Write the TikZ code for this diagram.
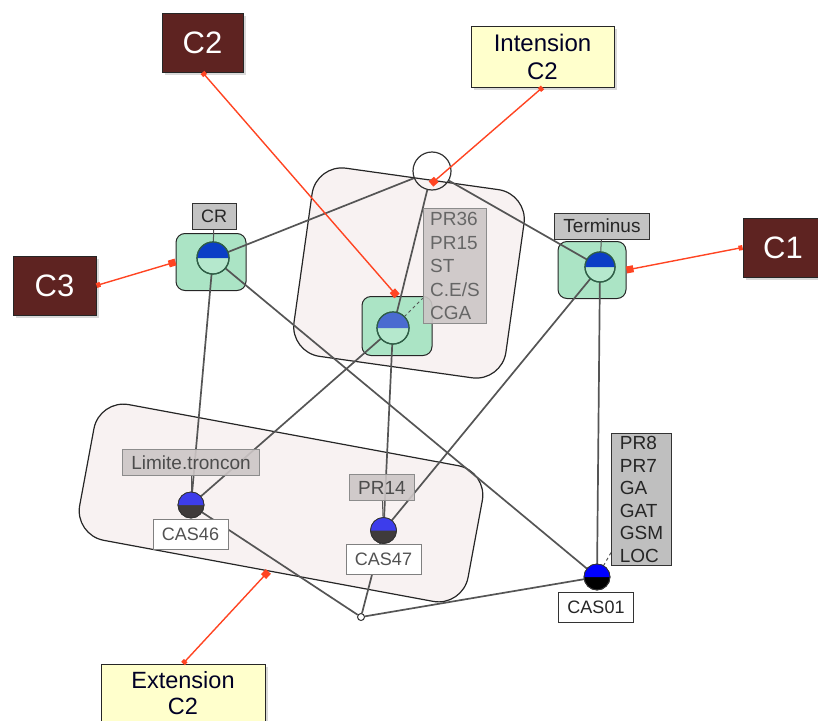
\documentclass[tikz,border=0pt]{standalone}
\usepackage{fontspec}
\setmainfont{Liberation Sans}
\usepackage{xcolor}
\usetikzlibrary{arrows.meta,shadows}

\definecolor{capbrown}{HTML}{5E2321}
\definecolor{noteyellow}{HTML}{FFFFCC}
\definecolor{regionpink}{HTML}{F8F2F2}
\definecolor{conceptgreen}{HTML}{ABE4C5}
\definecolor{circgreen}{HTML}{2F5E46}
\definecolor{lightgreen}{HTML}{B5E8CD}
\definecolor{cblue}{HTML}{0B3EC6}
\definecolor{mblue}{HTML}{4A6BD0}
\definecolor{oblue}{HTML}{3D3DEB}
\definecolor{odark}{HTML}{3F3B3B}
\definecolor{linkred}{HTML}{FF4422}
\definecolor{labgray}{HTML}{C3C3C3}
\definecolor{fadegray}{HTML}{CCC6C6}
\definecolor{edgegray}{HTML}{555555}

\pgfdeclarelayer{back}
\pgfdeclarelayer{edges}
\pgfsetlayers{back,edges,main}

\begin{document}
\begin{tikzpicture}[x=1pt,y=-1pt,
    region/.style={draw=black!85, fill=regionpink, line width=1.2pt, rounded corners=30pt},
    concept/.style={draw=black!85, fill=conceptgreen, line width=1pt, rounded corners=9pt},
    ccirc/.style={circle, draw=circgreen, fill=lightgreen, line width=1.2pt, minimum size=#1, inner sep=0pt, outer sep=0pt},
    ocirc/.style={circle, draw=black!80, line width=0.8pt, minimum size=#1, inner sep=0pt, outer sep=0pt},
    lab/.style={draw=black!80, fill=labgray, text=black!85, line width=0.9pt, font=\fontsize{19}{22.5}\selectfont, inner xsep=9pt, inner ysep=3pt, minimum height=26},
    glab/.style={lab, draw=black!45, fill=fadegray, fill opacity=0.9, text opacity=1, text=black!70},
    objname/.style={lab, fill=white, minimum height=30},
    cbox/.style={draw=black!85, fill=capbrown, text=white, line width=0.9pt, font=\fontsize{31}{36}\selectfont,
        drop shadow={shadow xshift=3pt, shadow yshift=-3pt, opacity=0.3}},
    ybox/.style={draw=black!85, fill=noteyellow, text=black!85!blue, line width=0.9pt, align=center,
        font=\fontsize{24}{28}\selectfont, drop shadow={shadow xshift=3pt, shadow yshift=-3pt, opacity=0.3}},
    edge/.style={draw=edgegray, line width=1.7pt},
    tick/.style={draw=edgegray, line width=1pt},
    link/.style={draw=linkred, line width=1.4pt, {Square[length=4pt,width=5pt]}-{Square[length=7pt,width=7pt]}}]

    \useasboundingbox (0,0) rectangle (818,720);

    \begin{pgfonlayer}{back}
        \node[region, minimum width=214, minimum height=190, rotate=-8] (intreg) at (409,273) {};
        \node[region, minimum width=395, minimum height=138, rotate=-10.5] (extreg) at (281,503) {};
        \node[concept, minimum width=70, minimum height=57] (crbox) at (211,262) {};
        \node[concept, minimum width=68, minimum height=57] (termbox) at (592,270) {};
        \node[concept, minimum width=70, minimum height=59] (midbox) at (397,326) {};
    \end{pgfonlayer}

    % concepts
    \node[ccirc=32] (crc) at (213,258) {};
    \node[ccirc=30] (termc) at (600,267) {};
    \node[ccirc=32] (midc) at (393,328) {};
    \foreach \n/\r/\c in {crc/16/cblue, termc/15/cblue, midc/16/mblue}{
        \fill[\c] (\n.west) arc (180:360:\r) -- cycle;
        \draw[circgreen, line width=1.2pt] (\n.center) circle (\r);
    }

    % objects
    \node[ocirc=26, fill=odark] (cas46c) at (191,505) {};
    \node[ocirc=26, fill=odark] (cas47c) at (383.5,530.5) {};
    \node[ocirc=26, fill=black] (cas01c) at (597,577) {};
    \foreach \n/\c in {cas46c/oblue, cas47c/oblue, cas01c/blue}{
        \fill[\c] (\n.west) arc (180:360:13) -- cycle;
        \draw[black!80, line width=0.8pt] (\n.center) circle (13);
    }

    \node[circle, draw=black!80, line width=1.2pt, minimum size=38, inner sep=0pt] (top) at (432,171) {};
    \node[circle, draw=black!80, fill=white, line width=1pt, minimum size=7, inner sep=0pt] (hub) at (361,617) {};

    % labels
    \node[lab, font=\fontsize{18}{22}\selectfont] (crlab) at (214,216) {CR};
    \node[lab] (termlab) at (602,226) {Terminus};
    \node[glab, align=left, text=black!60, inner xsep=7pt, inner ysep=4pt, font=\fontsize{19}{23.5}\selectfont] (midlist) at (455,266) {PR36\\PR15\\ST\\C.E/S\\CGA};
    \node[glab] (limlab) at (191,462.5) {Limite.troncon};
    \node[glab] (pr14lab) at (382,487.5) {PR14};
    \node[objname, draw=black!50, text=black!68, font=\fontsize{18}{22}\selectfont] (cas46) at (190.5,534.5) {CAS46};
    \node[objname, draw=black!50, text=black!68, font=\fontsize{18}{22}\selectfont] (cas47) at (383.5,559) {CAS47};
    \node[objname, font=\fontsize{18}{22}\selectfont] (cas01) at (596,607) {CAS01};
    \node[lab, fill=black!25, align=left, inner xsep=8pt, inner ysep=3pt] (cas01list) at (641.5,499.5) {PR8\\PR7\\GA\\GAT\\GSM\\LOC};

    \node[cbox, minimum width=81, minimum height=59] (c2) at (202.5,42.5) {C2};
    \node[cbox, minimum width=83, minimum height=59] (c3) at (54.5,285.5) {C3};
    \node[cbox, minimum width=80, minimum height=59] (c1) at (783,247.5) {C1};
    \node[ybox, minimum width=143, minimum height=61] (intension) at (542.5,56.5) {Intension\\C2};
    \node[ybox, minimum width=164, minimum height=58, font=\fontsize{23.5}{26.5}\selectfont] (extension) at (183,693) {Extension\\C2};

    \begin{pgfonlayer}{edges}
        \foreach \a/\b in {top/crc, top/termc, top/midc, crc/cas46c, crc/cas01c, midc/cas46c,
            midc/cas47c, termc/cas47c, termc/cas01c, cas46c/hub, cas47c/hub, cas01c/hub}
            \draw[edge] (\a) -- (\b);
        \foreach \a/\b in {crc/crlab, termc/termlab, cas46c/limlab, cas47c/pr14lab}
            \draw[tick] (\a) -- (\b);
        \draw[tick, dashed] (midc) -- (midlist);
        \draw[tick, dashed] (cas01c) -- (cas01list);
    \end{pgfonlayer}

    \coordinate (ianch) at (431,184);
    \draw[link] (c2.south) -- (midbox.north);
    \draw[link] (intension.south) -- (ianch);
    \draw[link] (c1.west) -- (termbox.east);
    \draw[link] (c3.east) -- (crbox.west);
    \draw[link] (extension.north) -- (extreg.south);
\end{tikzpicture}
\end{document}
